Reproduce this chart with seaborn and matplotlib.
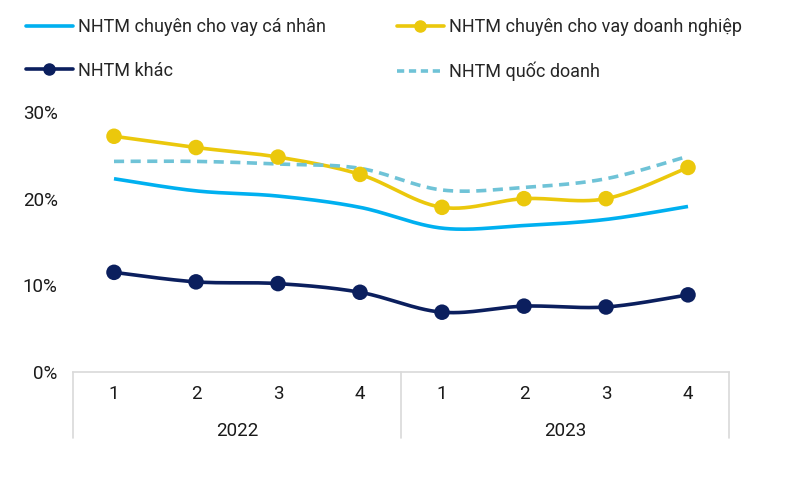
import numpy as np
import pandas as pd
import matplotlib
matplotlib.use("Agg")
import matplotlib.pyplot as plt
import matplotlib.transforms as mtransforms
from matplotlib.lines import Line2D
import seaborn as sns

# Du lieu (%)
quarters = ['1', '2', '3', '4', '1', '2', '3', '4']
years = ['2022', '2023']
ca_nhan = [22.3, 20.9, 20.3, 19.0, 16.6, 16.9, 17.6, 19.1]
doanh_nghiep = [27.2, 25.9, 24.8, 22.8, 19.0, 20.0, 20.0, 23.6]
khac = [11.5, 10.4, 10.2, 9.2, 6.9, 7.6, 7.5, 8.9]
quoc_doanh = [24.3, 24.3, 24.0, 23.5, 21.0, 21.3, 22.3, 24.9]

names = ['NHTM chuyên cho vay cá nhân', 'NHTM chuyên cho vay doanh nghiệp',
         'NHTM khác', 'NHTM quốc doanh']
colors = ['#00B0F0', '#EBC80C', '#0B1F5E', '#6FC3D7']


def smooth(vals, n=30):
    # duong cong kieu Excel (Catmull-Rom)
    p = np.array(vals, dtype=float)
    x = np.arange(len(p), dtype=float)
    P = np.concatenate([[p[0]], p, [p[-1]]])
    X = np.concatenate([[x[0]], x, [x[-1]]])
    xs, ys = [], []
    for i in range(1, len(P) - 2):
        t = np.linspace(0, 1, n)
        for A, out in ((X, xs), (P, ys)):
            p0, p1, p2, p3 = A[i - 1], A[i], A[i + 1], A[i + 2]
            m1 = (p2 - p0) / 2
            m2 = (p3 - p1) / 2
            h00 = 2 * t**3 - 3 * t**2 + 1
            h10 = t**3 - 2 * t**2 + t
            h01 = -2 * t**3 + 3 * t**2
            h11 = t**3 - t**2
            out.extend(h00 * p1 + h10 * m1 + h01 * p2 + h11 * m2)
    return np.array(xs), np.array(ys)


sns.set_style("white")
plt.rcParams['font.family'] = ['Roboto', 'DejaVu Sans']

fig = plt.figure(figsize=(7.96, 4.78), dpi=100)
ax = fig.add_axes([73 / 796, 1 - 372 / 478, 656 / 796, 260 / 478])

lw = 2.6
series = [ca_nhan, doanh_nghiep, khac, quoc_doanh]
for i, vals in enumerate(series):
    sx, sy = smooth(vals)
    df = pd.DataFrame({'x': sx, 'y': sy})
    ls = (0, (2.8, 1.8)) if i == 3 else '-'
    sns.lineplot(data=df, x='x', y='y', ax=ax, color=colors[i], lw=lw,
                 sort=False, estimator=None, linestyle=ls,
                 solid_capstyle='butt', dash_capstyle='butt')
    if i in (1, 2):
        sns.scatterplot(x=np.arange(len(vals)), y=vals, ax=ax, color=colors[i],
                        s=125, edgecolor='none', zorder=5)

ax.set_xlim(-0.5, 7.5)
ax.set_ylim(0, 30)
ax.set_yticks([0, 10, 20, 30])
ax.set_yticklabels([f'{v}%' for v in [0, 10, 20, 30]], fontsize=13.5, color='#1a1a1a')
ax.tick_params(axis='y', length=0, pad=11)
ax.set_xticks([])
ax.set_xlabel('')
ax.set_ylabel('')
for s in ['left', 'right', 'top']:
    ax.spines[s].set_visible(False)
ax.spines['bottom'].set_color('#D9D9D9')
ax.spines['bottom'].set_linewidth(1.2)

# truc x hai cap
tr = mtransforms.blended_transform_factory(ax.transData, ax.transAxes)
depth = -(438 - 372) / 260
for xv in [-0.5, 3.5, 7.5]:
    ax.plot([xv, xv], [0, depth], color='#D9D9D9', lw=1.2, transform=tr, clip_on=False)
for i, q in enumerate(quarters):
    ax.text(i, -(394 - 372) / 260, q, transform=tr, ha='center', va='center',
            fontsize=13.5, color='#1a1a1a')
for j, yr in enumerate(years):
    ax.text(j * 4 + 1.5, -(431 - 372) / 260, yr, transform=tr, ha='center',
            va='center', fontsize=13.5, color='#1a1a1a')

# chu thich
handles = [
    Line2D([], [], color=colors[0], lw=lw),
    Line2D([], [], color=colors[2], lw=lw, marker='o', markersize=8),
    Line2D([], [], color=colors[1], lw=lw, marker='o', markersize=8),
    Line2D([], [], color=colors[3], lw=lw, linestyle=(0, (2.0, 1.3))),
]
labels = [names[0], names[2], names[1], names[3]]
fig.legend(handles, labels, loc='upper left', bbox_to_anchor=(26 / 796, 1 - 18 / 478),
           ncol=2, frameon=False, fontsize=13, handlelength=2.6, handletextpad=0.3,
           columnspacing=3.9, labelspacing=1.42, borderpad=0, borderaxespad=0)

fig.savefig('out.png', dpi=100)
